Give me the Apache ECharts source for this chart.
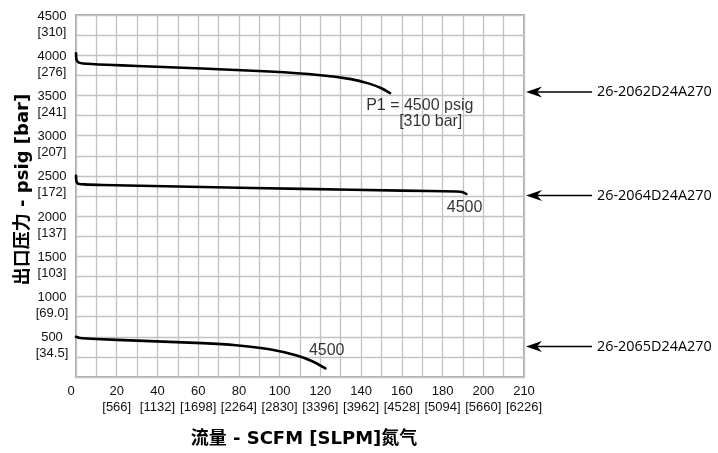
<!DOCTYPE html>
<html>
<head>
<meta charset="utf-8">
<script src="https://cdn.jsdelivr.net/npm/echarts@6/dist/echarts.min.js"></script>
<style>
html,body{margin:0;padding:0;background:#fff;}
#chart{width:718px;height:453px;}
</style>
</head>
<body>
<div id="chart"></div>
<script>
// ---- data ----
const xTickValues = [0, 20, 40, 60, 80, 100, 120, 140, 160, 180, 200, 220];
const xTickScfm = ['0', '20', '40', '60', '80', '100', '120', '140', '160', '180', '200', '210'];
const xTickSlpm = ['', '[566]', '[1132]', '[1698]', '[2264]', '[2830]', '[3396]', '[3962]', '[4528]', '[5094]', '[5660]', '[6226]'];
const yTickValues = [500, 1000, 1500, 2000, 2500, 3000, 3500, 4000, 4500];
const yTickPsig = ['500', '1000', '1500', '2000', '2500', '3000', '3500', '4000', '4500'];
const yTickBar = ['[34.5]', '[69.0]', '[103]', '[137]', '[172]', '[207]', '[241]', '[276]', '[310]'];

const curve2062 = [[0, 4025], [0.15, 3960], [0.6, 3925], [1.5, 3908], [3.5, 3898], [15, 3882], [30, 3866], [62, 3834], [95, 3797], [119, 3755], [135, 3703], [143.6, 3650], [150, 3589], [154.2, 3528]];
const curve2064 = [[0, 2500], [0.15, 2440], [0.6, 2410], [1.5, 2400], [4, 2394], [13, 2387], [62, 2362], [111, 2338], [160, 2317], [187, 2306], [190, 2298], [191.7, 2275]];
const curve2065 = [[0, 500], [2, 485], [10, 472], [30, 452], [62, 421], [78.5, 395], [95, 345], [108, 270], [116, 196], [122.5, 106]];

const curveLabels = [
  { text: 'P1 = 4500 psig', x: 168.8, y: 3372 },
  { text: '[310 bar]', x: 174.2, y: 3179 },
  { text: '4500', x: 190.8, y: 2109 },
  { text: '4500', x: 123.1, y: 331 }
];
const modelNames = ['26-2062D24A270', '26-2064D24A270', '26-2065D24A270'];
const modelArrowY = [3543, 2256, 380];

// ---- chart ----
const chart = echarts.init(document.getElementById('chart'), null, { renderer: 'canvas' });
const tickFont = 'Liberation Sans, Arial, sans-serif';
const titleFont = '"DejaVu Sans", "Noto Sans CJK SC", sans-serif';
const textColor = '#111';

function lineSeries(data) {
  return {
    type: 'line', data: data, smooth: 0.25,
    showSymbol: false, symbol: 'none',
    lineStyle: { color: '#000', width: 2.6, cap: 'round', join: 'round' },
    z: 5, animation: false
  };
}

const option = {
  animation: false,
  grid: { left: 76, right: 194, top: 15, bottom: 71, show: true, borderColor: '#ababab', borderWidth: 2, backgroundColor: 'transparent' },
  xAxis: {
    type: 'value', min: 0, max: 220, interval: 10,
    name: '流量 - SCFM [SLPM]氮气', nameLocation: 'middle', nameGap: 53, nameMoveOverlap: false,
    nameTextStyle: { fontFamily: titleFont, fontWeight: 'bold', fontSize: 18, color: '#000', padding: [0, 0, 0, 8] },
    axisLine: { show: false }, axisTick: { show: false },
    splitLine: { show: true, lineStyle: { color: '#c2c2c2', width: 1.3 } },
    axisLabel: {
      margin: 6, color: textColor, fontFamily: tickFont, fontSize: 13, lineHeight: 16, verticalAlign: 'top',
      formatter: function (v) {
        const i = xTickValues.indexOf(v);
        if (i < 0) return '';
        if (i === 0) return '{f|' + xTickScfm[i] + '}';
        return '{n|' + xTickScfm[i] + '}\n{n|' + xTickSlpm[i] + '}';
      },
      rich: {
        n: { fontFamily: tickFont, fontSize: 13, lineHeight: 16, color: textColor },
        f: { fontFamily: tickFont, fontSize: 13, lineHeight: 16, color: textColor, padding: [0, 10, 0, 0] }
      }
    }
  },
  yAxis: {
    type: 'value', min: 0, max: 4500, interval: 250,
    name: '出口压力 - psig [bar]', nameLocation: 'middle', nameGap: 44, nameMoveOverlap: false,
    nameTextStyle: { fontFamily: titleFont, fontWeight: 'bold', fontSize: 18, color: '#000', padding: [0, 0, 0, 13] },
    axisLine: { show: false }, axisTick: { show: false },
    splitLine: { show: true, lineStyle: { color: '#c2c2c2', width: 1.3 } },
    axisLabel: {
      margin: 7, color: textColor, padding: [18, 0, 0, 0],
      formatter: function (v) {
        const i = yTickValues.indexOf(v);
        if (i < 0) return '';
        return '{a|' + yTickPsig[i] + '}\n{a|' + yTickBar[i] + '}';
      },
      rich: {
        a: { fontFamily: tickFont, fontSize: 13, lineHeight: 16, width: 34, align: 'center', color: textColor }
      }
    }
  },
  series: [lineSeries(curve2062), lineSeries(curve2064), lineSeries(curve2065),
    {
      type: 'scatter', data: curveLabels.map(d => [d.x, d.y]), symbolSize: 0, z: 6,
      label: {
        show: true, position: 'inside', color: '#000', fontFamily: tickFont, fontSize: 16,
        formatter: p => curveLabels[p.dataIndex].text
      },
      silent: true
    }
  ]
};
chart.setOption(option);

// right-hand model annotations with arrows (y positions from data scale)
const graphics = [];
const xRight = chart.convertToPixel({ gridIndex: 0 }, [220, 0])[0];
modelArrowY.forEach((val, i) => {
  const y = chart.convertToPixel({ gridIndex: 0 }, [220, val])[1];
  const tip = xRight + 2;
  graphics.push({
    type: 'line', shape: { x1: tip + 10, y1: y, x2: tip + 66, y2: y },
    style: { stroke: '#000', lineWidth: 1.4 }, silent: true
  });
  graphics.push({
    type: 'polygon', shape: { points: [[tip, y], [tip + 16, y - 5.5], [tip + 11, y], [tip + 16, y + 5.5]] },
    style: { fill: '#000' }, silent: true
  });
  graphics.push({
    type: 'text', x: tip + 71, y: y,
    style: { text: modelNames[i], fill: '#000', font: '14.4px "Open Sans", sans-serif', textVerticalAlign: 'middle', textAlign: 'left' },
    silent: true
  });
});
chart.setOption({ graphic: graphics });
</script>
</body>
</html>
